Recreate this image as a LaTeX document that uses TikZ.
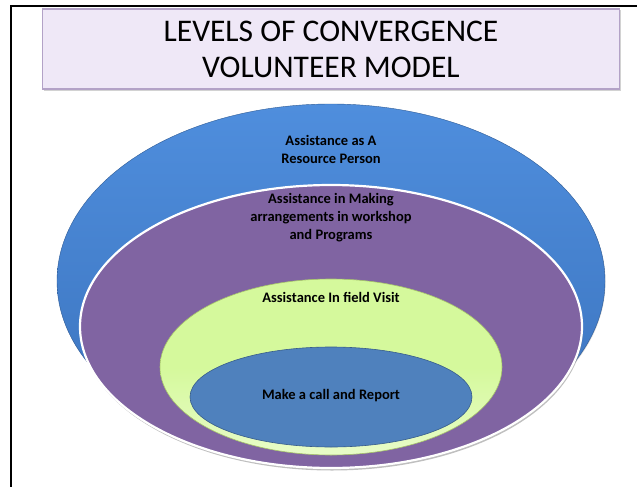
\documentclass[tikz,border=0pt]{standalone}
\usepackage{fontspec}
\setmainfont{Carlito}
\usetikzlibrary{shapes.geometric,shadows}
\definecolor{titlefill}{HTML}{EFE8F7}
\definecolor{titleborder}{HTML}{B3A2C7}
\definecolor{bluetop}{HTML}{4F8EDD}
\definecolor{bluebot}{HTML}{3A72BC}
\definecolor{purplefill}{HTML}{8064A2}
\definecolor{greentop}{HTML}{D5F99C}
\definecolor{greenbot}{HTML}{E8FCC8}
\definecolor{greenedge}{HTML}{A6C46A}
\definecolor{innerfill}{HTML}{4F81BD}
\definecolor{inneredge}{HTML}{385D8A}
\tikzset{
  lbl/.style={font=\fontsize{14.5}{18}\selectfont\bfseries, align=center, text=black},
  ring/.style={ellipse, inner sep=0pt},
}
\begin{document}
\begin{tikzpicture}[x=1pt,y=-1pt]
\useasboundingbox (0,0) rectangle (637,487);
\fill[white] (0,0) rectangle (637,487);
% frame
\coordinate (fb) at (11,487);
\coordinate (fc) at (11,6);
\coordinate (fr) at (637,6);
\draw[line width=2.2pt] (fb) -- (fc) -- (fr);
% title
\node[rectangle, minimum width=577pt, minimum height=80pt, fill=titlefill, draw=titleborder, line width=1.2pt,
  drop shadow={shadow xshift=1pt, shadow yshift=-1.5pt, opacity=0.35},
  font=\fontsize{31.5}{36}\selectfont, align=center] (title) at (331,49) {LEVELS OF CONVERGENCE\\VOLUNTEER MODEL};
% outer blue
\node[ring, minimum width=548pt, minimum height=354pt, top color=bluetop, bottom color=bluebot, draw=bluebot!80!black, line width=0.4pt,
  drop shadow={shadow xshift=0.5pt, shadow yshift=-1pt, opacity=0.3}] (blue) at (331,281) {};
% purple
\node[ring, minimum width=502pt, minimum height=283pt, fill=purplefill, draw=white, line width=2.2pt,
  drop shadow={shadow xshift=1pt, shadow yshift=-2.5pt, opacity=0.5}] (purple) at (331,326.5) {};
% green
\node[ring, minimum width=342pt, minimum height=176pt, top color=greentop, bottom color=greenbot, middle color=greentop, draw=greenedge, line width=0.6pt] (green) at (331,367) {};
% inner blue
\node[ring, minimum width=282pt, minimum height=100pt, fill=innerfill, draw=inneredge, line width=0.6pt] (inner) at (331,397) {};
% labels
\node[lbl] (t1) at (331,149.5) {Assistance as A\\Resource Person};
\node[lbl] (t2) at (331,218) {Assistance in Making\\arrangements in workshop\\and Programs};
\node[lbl] (t3) at (331,297.5) {Assistance In field Visit};
\node[lbl] (t4) at (331,395.5) {Make a call and Report};
\end{tikzpicture}
\end{document}
